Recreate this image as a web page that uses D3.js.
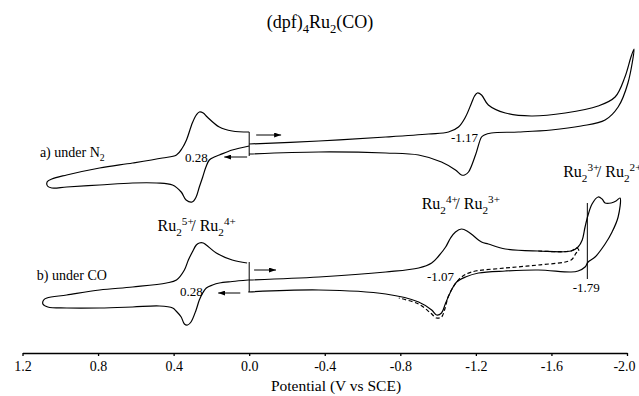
<!DOCTYPE html>
<html>
<head>
<meta charset="utf-8">
<script src="https://cdn.jsdelivr.net/npm/d3@7"></script>
<style>
  body { margin: 0; background: #fff; }
  text { font-family: "Liberation Serif", "Times New Roman", serif; fill: #000; }
</style>
</head>
<body>
<script>
// potential (V vs SCE), current (arbitrary units)
let tickValues = [1.2, 0.8, 0.4, 0.0, -0.4, -0.8, -1.2, -1.6, -2.0];

// a) under N2 : positive side, 0 -> +1.07 V (lower) and back to 0 (upper)
let aLeft = [[0.00,21.4],[0.09,21.0],[0.158,20.5],[0.185,20.3],[0.211,20.0],[0.229,19.3],[0.246,18.3],[0.264,17.3],
  [0.281,16.3],[0.302,15.8],[0.334,16.0],[0.360,16.8],[0.406,17.5],[0.491,17.7],[0.617,17.7],[0.792,17.5],[0.966,17.3],
  [1.045,17.2],[1.068,17.4],[1.070,17.8],[1.045,18.1],[0.966,18.5],[0.792,19.2],[0.617,19.7],[0.459,20.2],[0.385,20.5],
  [0.354,21.2],[0.332,22.0],[0.301,23.7],[0.280,24.5],[0.264,24.8],[0.243,24.7],[0.222,24.3],[0.158,23.3],[0.090,22.9],[0.00,22.8]];
// a) negative side, 0 -> -2.04 V (upper) and back to 0 (lower)
let aRight = [[0.00,21.6],[-0.369,21.9],[-0.723,22.3],[-0.950,22.6],[-1.055,22.8],[-1.108,23.3],[-1.145,24.3],[-1.177,25.7],
  [-1.193,26.4],[-1.208,26.7],[-1.230,26.5],[-1.266,25.5],[-1.356,24.7],[-1.493,24.4],[-1.673,24.7],[-1.847,25.4],[-1.937,26.3],
  [-1.989,28.3],[-2.021,30.3],[-2.037,31.1],[-2.005,27.7],[-1.953,25.3],[-1.884,24.0],[-1.757,23.4],[-1.599,23.0],[-1.425,22.8],
  [-1.282,22.7],[-1.245,22.5],[-1.230,22.3],[-1.198,20.5],[-1.161,18.8],[-1.140,18.5],[-1.124,18.5],[-1.092,19.0],[-1.018,19.8],
  [-0.897,20.5],[-0.723,20.7],[-0.369,20.8],[0.00,20.6]];
let aStep = [[0.0,22.8],[0.0,20.4]];

// b) under CO
let bLeft = [[0.005,8.0],[0.090,7.85],[0.158,7.7],[0.194,7.5],[0.227,7.2],[0.246,6.7],[0.264,6.0],[0.281,5.0],[0.308,3.8],
  [0.326,3.5],[0.343,3.6],[0.360,4.3],[0.387,4.9],[0.405,5.2],[0.475,5.4],[0.617,5.3],[0.792,5.2],[0.966,5.2],[1.066,5.3],
  [1.092,5.6],[1.088,6.0],[1.071,6.2],[0.966,6.5],[0.792,7.0],[0.617,7.3],[0.438,7.7],[0.385,8.0],[0.343,9.0],[0.322,10.0],
  [0.301,10.8],[0.280,11.5],[0.264,11.7],[0.243,11.7],[0.227,11.5],[0.174,10.7],[0.090,10.0],[0.011,9.7]];
let bRight = [[0.005,8.0],[-0.369,8.3],[-0.723,8.8],[-0.897,9.2],[-0.966,9.7],[-1.003,10.4],[-1.040,11.3],[-1.066,12.2],
  [-1.092,12.8],[-1.124,13.1],[-1.161,12.8],[-1.230,11.8],[-1.266,11.6],[-1.356,11.1],[-1.530,10.9],[-1.704,10.9],[-1.741,11.3],
  [-1.763,12.0],[-1.778,13.3],[-1.794,14.5],[-1.815,15.6],[-1.847,16.3],[-1.868,16.1],[-1.884,15.7],[-1.916,15.7],[-1.942,15.9],
  [-1.963,16.2],[-1.953,14.3],[-1.921,12.8],[-1.884,11.6],[-1.831,10.3],[-1.794,9.8],[-1.778,9.3],[-1.741,8.9],[-1.704,8.8],
  [-1.530,9.0],[-1.356,8.9],[-1.214,8.7],[-1.145,8.3],[-1.098,7.8],[-1.071,7.0],[-1.040,5.7],[-1.018,4.7],[-0.992,4.5],
  [-0.966,5.0],[-0.897,5.8],[-0.723,6.6],[-0.369,7.0],[0.005,6.8]];
// second scan reversed at -1.75 V (dashed)
let bDashed = [[-1.530,10.9],[-1.704,10.9],[-1.735,11.2],[-1.745,10.9],[-1.731,10.7],[-1.704,10.0],[-1.530,9.5],[-1.356,9.2],
  [-1.177,8.8],[-1.124,8.3],[-1.087,7.5],[-1.055,6.4],[-1.034,5.0],[-1.018,4.3],[-0.992,4.2],[-0.960,4.7],[-0.897,5.6],[-0.792,6.2]];
let bStep = [[0.0,9.8],[0.0,6.8]];
let bStep179 = [[-1.79,15.7],[-1.79,8.1]];

// scan direction arrows [from, to]
let arrows = [[[-0.037,22.5],[-0.169,22.5]], [[0.011,20.3],[0.132,20.3]],
              [[-0.026,9.0],[-0.142,9.0]], [[0.047,6.7],[0.164,6.7]]];

// E1/2 labels: [E, I, text]
let halfWave = [[0.28,19.8,"0.28"],[0.306,6.4,"0.28"],[-1.14,21.8,"-1.17"],[-1.013,7.9,"-1.07"],[-1.784,6.8,"-1.79"]];
// couple labels: [E, I, ox state, red state]
let couples = [[0.485,12.9,"5+","4+"],[-0.913,15.1,"4+","3+"],[-1.662,18.3,"3+","2+"]];

let width = 639;
let height = 396;

let svg = d3.select("body").append("svg").attr("width", width).attr("height", height);

let x = d3.scaleLinear().domain([1.2, -2.0]).range([22.5, 627]);
let y = d3.scaleLinear().domain([0, 34]).range([360, 20]);

let smooth = d3.line().x(d => x(d[0])).y(d => y(d[1])).curve(d3.curveCatmullRom.alpha(0.5));
let straight = d3.line().x(d => x(d[0])).y(d => y(d[1]));

// arrow head
svg.append("defs").append("marker")
    .attr("id", "head").attr("viewBox", "0 0 7 5").attr("refX", 7).attr("refY", 2.5)
    .attr("markerWidth", 7).attr("markerHeight", 5).attr("markerUnits", "userSpaceOnUse").attr("orient", "auto")
  .append("path").attr("d", "M0,0L7,2.5L0,5Z").attr("fill", "#000");

let curves = svg.append("g").attr("fill", "none").attr("stroke", "#000").attr("stroke-width", 1.2);
[aLeft, aRight, bLeft, bRight].forEach(c => curves.append("path").attr("d", smooth(c)));
curves.append("path").attr("d", smooth(bDashed)).attr("stroke-dasharray", "4,2.5");
[aStep, bStep, bStep179].forEach(c => curves.append("path").attr("d", straight(c)).attr("stroke-width", 1));

arrows.forEach(a => svg.append("path").attr("d", straight(a)).attr("stroke", "#000")
    .attr("stroke-width", 1).attr("marker-end", "url(#head)"));

// x axis
let xAxis = d3.axisBottom(x).tickValues(tickValues).tickFormat(d => d.toFixed(1))
    .tickSize(3).tickSizeOuter(0).tickPadding(5);
let axisG = svg.append("g").attr("transform", "translate(0,353)").call(xAxis);
axisG.attr("font-family", null).attr("font-size", 14);
axisG.select(".domain").attr("stroke-width", 1.6);
axisG.selectAll(".tick line").attr("stroke-width", 1.3);
axisG.selectAll(".tick text").filter(d => d == -2.0).attr("dx", -3);

svg.append("text").attr("x", 336).attr("y", 391).attr("text-anchor", "middle")
    .attr("font-size", 15.5).text("Potential (V vs SCE)");

// text with sub/superscripts: parts = [[string, "n"|"sub"|"sup", dx]]
function rich(sel, parts, fs) {
  let shift = 0;
  parts.forEach(p => {
    let target = p[1] == "sub" ? 0.3 * fs : p[1] == "sup" ? -0.4 * fs : 0;
    let t = sel.append("tspan").attr("dy", target - shift).text(p[0]);
    if (p[1] != "n") t.attr("font-size", fs * 0.7);
    if (p[2]) t.attr("dx", p[2]);
    shift = target;
  });
}

let title = svg.append("text").attr("x", 320).attr("y", 28).attr("text-anchor", "middle").attr("font-size", 18);
rich(title, [["(dpf)","n"],["4","sub"],["Ru","n"],["2","sub"],["(CO)","n"]], 18);

let la = svg.append("text").attr("x", x(1.108)).attr("y", y(20.3)).attr("font-size", 14);
rich(la, [["a) under N","n"],["2","sub"]], 14);
svg.append("text").attr("x", x(1.124)).attr("y", y(8.0)).attr("font-size", 14).text("b) under CO");

halfWave.forEach(h => svg.append("text").attr("x", x(h[0])).attr("y", y(h[1]))
    .attr("text-anchor", "middle").attr("font-size", 13).text(h[2]));

couples.forEach(c => {
  let t = svg.append("text").attr("x", x(c[0])).attr("y", y(c[1])).attr("font-size", 16);
  rich(t, [["Ru","n"],["2","sub"],[c[2],"sup"],["/","n",-2.5],[" Ru","n"],["2","sub"],[c[3],"sup"]], 16);
});
</script>
</body>
</html>
